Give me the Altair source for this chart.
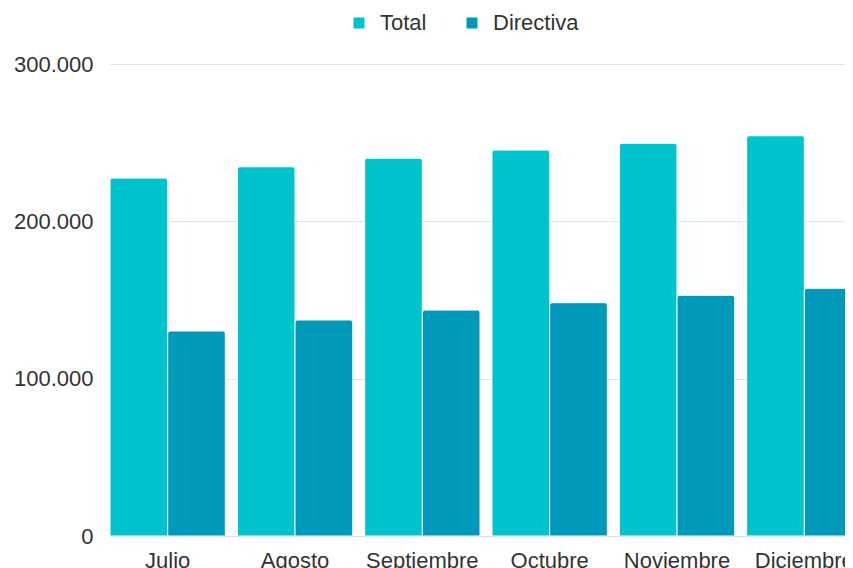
import altair as alt
import pandas as pd

months = ["Julio", "Agosto", "Septiembre", "Octubre", "Noviembre", "Diciembre"]
series = ["Total", "Directiva"]
total = [227500, 234700, 240100, 245300, 249600, 254400]
directiva = [130300, 137300, 143600, 148300, 153000, 157400]
colors = ["#00C3CB", "#0099BA"]
y_ticks = [0, 100000, 200000, 300000]

rows = []
for m, t, d in zip(months, total, directiva):
    rows.append({"mes": m, "serie": "Total", "valor": t})
    rows.append({"mes": m, "serie": "Directiva", "valor": d})
df = pd.DataFrame(rows)

FONT = "Liberation Sans"

chart = alt.Chart(df).mark_bar(
    cornerRadiusTopLeft=3, cornerRadiusTopRight=3,
    stroke="white", strokeWidth=1, strokeOpacity=0.6
).encode(
    x=alt.X("mes:N", sort=months,
            scale=alt.Scale(range=[0, 752], paddingInner=0.094, paddingOuter=0),
            axis=alt.Axis(title=None, labelAngle=0, ticks=False, labelPadding=14,
                          domainColor="#dcdcdc", labelFontSize=22, labelColor="#333333",
                          labelFont=FONT, grid=False)),
    xOffset=alt.XOffset("serie:N", sort=series, scale=alt.Scale(paddingInner=0.0)),
    y=alt.Y("valor:Q", scale=alt.Scale(domain=[0, 300000], nice=False),
            axis=alt.Axis(title=None, values=y_ticks, ticks=False, domain=False,
                          labelPadding=17, labelFontSize=22, labelColor="#333333",
                          labelFont=FONT, gridColor="#e3e3e3",
                          labelExpr="datum.value == 0 ? '0' : format(datum.value/1000, '.3f')")),
    color=alt.Color("serie:N", sort=series,
                    scale=alt.Scale(domain=series, range=colors),
                    legend=alt.Legend(title=None, orient="none", direction="horizontal",
                                      legendX=238, legendY=-52, symbolType="square",
                                      symbolSize=121, symbolStrokeWidth=0,
                                      labelFontSize=22, labelColor="#333333", labelFont=FONT,
                                      labelOffset=10, columnPadding=34, padding=0)),
).properties(
    width=735, height=472,
    autosize=alt.AutoSizeParams(type="none"),
    padding={"left": 102, "top": 56, "right": 0, "bottom": 32},
).configure_view(stroke=None)

chart.save("out.html", embed_options={"renderer": "svg", "actions": False})
